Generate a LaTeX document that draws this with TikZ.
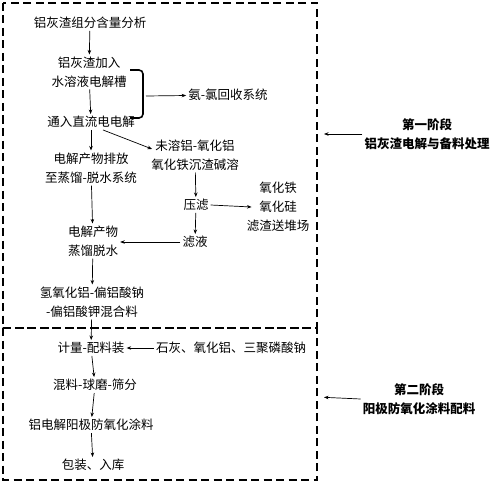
\documentclass[tikz,border=0pt]{standalone}
\usepackage{fontspec}
\newfontfamily\cjk{Noto Sans CJK SC}
\usepackage{xcolor}
\definecolor{cMain}{HTML}{000000}
\usepackage{tikz}
\usetikzlibrary{positioning,arrows.meta,calc}
\tikzset{
  node-step/.style={align=center,inner sep=2pt,text=cMain,
    font=\cjk\fontsize{12.5}{19}\selectfont},
  node-stage/.style={node-step,font=\cjk\bfseries\fontsize{12.5}{19}\selectfont},
  arrow/.style={-{Stealth[length=4.5pt,width=3.5pt]},line width=0.7pt,draw=cMain},
  stage-box/.style={dashed,line width=1.6pt,dash pattern=on 8pt off 4.5pt,draw=cMain},
  bracket/.style={line width=1.6pt,rounded corners=4pt,draw=cMain},
}

\begin{document}
\begin{tikzpicture}[x=1pt,y=-1pt]
  \useasboundingbox (0,0) rectangle (492,484);
  % 两个阶段虚线框
  \draw[stage-box] (3,3) rectangle (317,328);
  \draw[stage-box] (3,328) rectangle (317,480);
  \coordinate (b1) at (317,134);
  \coordinate (b2) at (317,397);
  % 第一阶段
  \node[node-step] (ana)   at (90,23)   {铝灰渣组分含量分析};
  \node[node-step] (cell)  at (89,72)   {铝灰渣加入\\水溶液电解槽};
  \node[node-step] (elec)  at (91,122)  {通入直流电电解};
  \node[node-step] (disch) at (91,168)  {电解产物排放\\至蒸馏-脱水系统};
  \node[node-step] (dist)  at (93,241)  {电解产物\\蒸馏脱水};
  \node[node-step] (mixa)  at (92,302)  {氢氧化铝-偏铝酸钠\\-偏铝酸钾混合料};
  \node[node-step] (recov) at (228,95)  {氨-氯回收系统};
  \node[node-step] (resid) at (195,155) {未溶铝-氧化铝\\氧化铁沉渣碱溶};
  \node[node-step] (press) at (196,205) {压滤};
  \node[node-step] (waste) at (278,207) {氧化铁\\氧化硅\\滤渣送堆场};
  \node[node-step] (filt)  at (195,242) {滤液};
  % 第二阶段
  \node[node-step] (meter) at (91,348)  {计量-配料装};
  \node[node-step] (addit) at (231,348) {石灰、氧化铝、三聚磷酸钠};
  \node[node-step] (mill)  at (95,385)  {混料-球磨-筛分};
  \node[node-step] (coat)  at (91,425)  {铝电解阳极防氧化涂料};
  \node[node-step] (pack)  at (93,465)  {包装、入库};
  % 阶段说明
  \node[node-stage] (stg1) at (427,134) {第一阶段\\铝灰渣电解与备料处理};
  \node[node-stage] (stg2) at (419,399) {第二阶段\\阳极防氧化涂料配料};
  % 电解槽右侧括号
  \draw[bracket] (130,70) -- (143,70) -- (143,118) -- (130,118);
  \coordinate (brk) at (146,96);
  \draw[arrow] (ana) -- (cell);
  \draw[arrow] (cell) -- (elec);
  \draw[arrow] (brk) -- (recov);
  \draw[arrow] (elec) -- (disch);
  \draw[arrow] ($(elec.south)+(12,0)$) -- ($(resid.west)+(3,-6)$);
  \draw[arrow] (disch) -- (dist);
  \draw[arrow] (dist) -- (mixa);
  \draw[arrow] (resid) -- (press);
  \draw[arrow] (press.east) -- ($(waste.west)+(7,0)$);
  \draw[arrow] (press) -- (filt);
  \draw[arrow] (filt.west) -- (filt.west -| dist.east);
  \draw[arrow] (mixa) -- (meter);
  \draw[arrow] (addit) -- (meter);
  \draw[arrow] (meter) -- (mill);
  \draw[arrow] (mill) -- (coat);
  \draw[arrow] (coat) -- (pack);
  \draw[arrow,shorten >=7pt] (stg1.west) -- (b1);
  \draw[arrow,shorten >=7pt] (stg2.west) -- (b2);
\end{tikzpicture}
\end{document}
